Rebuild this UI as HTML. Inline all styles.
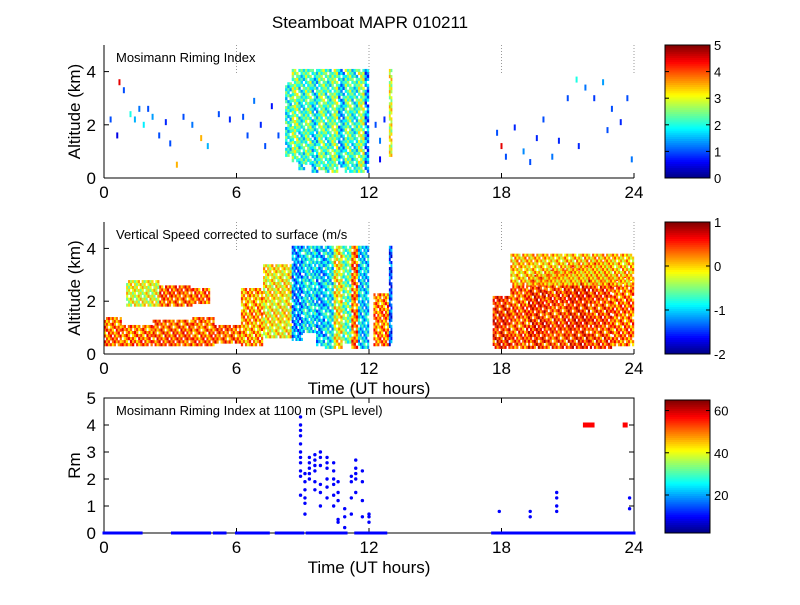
<!DOCTYPE html>
<html><head><meta charset="utf-8"><style>
body{margin:0;background:#fff}
svg{font-family:"Liberation Sans",Arial,sans-serif}
</style></head><body>
<svg id="fig" width="800" height="600">
<rect width="800" height="600" fill="#fff"/>
<text x="370" y="28" font-size="17" text-anchor="middle">Steamboat MAPR 010211</text>
</svg>
<script>
// ---- data ----
const xTicks=[0,6,12,18,24];
const p1Ticks=[0,2,4];
const p3Ticks=[0,1,2,3,4,5];
const cb1Labels=[0,1,2,3,4,5];
const cb2Labels=[-2,-1,0,1];
const cb3Labels=[20,40,60];
// stripes: [t0,t1,zlo,zhi,value]
const rimeStripes=[
[8.2,8.5,0.8,3.6,2.0],[8.5,8.8,0.6,4.1,2.6],[8.8,9.1,0.3,4.1,2.0],[9.1,9.4,0.5,4.1,2.4],
[9.4,9.7,0.2,4.1,1.8],[9.7,10.0,0.3,4.1,2.5],[10.0,10.3,0.2,4.1,2.1],[10.3,10.6,0.2,4.1,2.6],
[10.6,10.9,0.4,4.1,1.6],[10.9,11.2,0.2,4.1,2.4],[11.2,11.5,0.2,4.1,2.0],[11.5,11.8,0.2,4.1,2.7],
[11.8,12.0,0.2,4.1,1.3],[12.9,13.05,0.8,4.1,3.0]];
const rimePoints=[
[0.3,2.2,1],[0.6,1.6,0.5],[0.7,3.6,4.5],[0.9,3.3,1],[1.2,2.4,2],[1.4,2.2,1.5],[1.6,2.6,1.2],[1.8,2.0,1.8],
[2.0,2.6,1],[2.2,2.3,1.4],[2.5,1.6,1],[2.8,2.1,0.8],[3.0,1.3,1],[3.3,0.5,3.5],[3.6,2.3,1],[4.0,2.0,1.2],
[4.4,1.5,3.5],[4.7,1.2,1.5],[5.2,2.4,1],[5.7,2.2,0.8],[6.3,2.3,1],[6.5,1.6,1],[6.8,2.9,1.2],[7.1,2.0,0.8],
[7.3,1.2,1],[7.6,2.7,0.7],[7.9,1.6,1],[12.3,2.0,1],[12.5,1.4,1.2],[12.7,2.2,0.8],[12.5,0.7,0.6],
[17.8,1.7,1],[18.0,1.2,4.5],[18.2,0.8,1],[18.6,1.9,0.8],[19.0,1.0,1.3],[19.3,0.6,1],[19.6,1.5,0.8],
[19.9,2.2,1],[20.3,0.8,1.2],[20.6,1.4,0.8],[21.0,3.0,1],[21.4,3.7,2],[21.8,3.4,1.2],[22.2,3.0,0.9],
[22.6,3.6,1.4],[23.0,2.6,1],[23.4,2.1,0.8],[23.7,3.0,1],[23.9,0.7,1.2],[21.5,1.2,0.8],[22.8,1.8,1]];
const vsStripes=[
[0,0.8,0.3,1.4,0.3],[0.8,2.2,0.3,1.1,0.3],[2.2,4.0,0.3,1.3,0.35],[4.0,5.0,0.3,1.4,0.3],[5.0,6.2,0.4,1.1,0.35],
[6.2,7.2,0.3,2.5,0.15],[7.2,8.5,0.6,3.4,-0.1],[1.0,2.5,1.8,2.8,-0.2],[2.5,4.0,1.8,2.6,0.35],[4.0,4.8,1.9,2.5,0.3],
[8.5,9.0,0.5,4.1,-1.2],[9.0,9.6,0.8,4.1,-0.9],[9.6,10.0,0.3,4.1,-1.1],[10.0,10.4,0.2,4.1,-0.9],
[10.4,10.8,0.2,4.1,-0.1],[10.8,11.2,0.4,4.1,-0.6],[11.2,11.5,0.2,4.1,0.3],[11.5,12.0,0.2,4.1,-1.0],
[12.2,12.9,0.3,2.3,0.25],[12.9,13.05,0.3,4.1,-1.4],
[17.6,18.4,0.2,2.2,0.5],[18.4,19.2,0.2,2.6,0.35],[19.2,20.0,0.2,3.0,0.5],[20.0,21.0,0.2,3.2,0.4],
[21.0,22.0,0.2,3.4,0.5],[22.0,23.0,0.2,3.5,0.4],[23.0,24.0,0.3,3.0,0.3],[18.4,24,2.6,3.8,0.05]];
const scatTimes=[8.9,8.9,8.9,8.9,8.9,8.9,8.9,8.9,8.9,8.9,8.9,9.1,9.1,9.1,9.1,9.1,9.1,9.3,9.3,9.3,9.3,9.3,
9.55,9.55,9.55,9.55,9.55,9.55,9.8,9.8,9.8,9.8,9.8,9.8,10.1,10.1,10.1,10.1,10.1,10.1,10.4,10.4,10.4,10.4,10.4,10.4,
10.6,10.6,10.6,10.6,10.6,10.9,10.9,10.9,11.2,11.2,11.2,11.2,11.4,11.4,11.4,11.4,11.4,11.7,11.7,11.7,11.7,12.0,12.0,12.0,
17.9,19.3,19.3,20.5,20.5,20.5,20.5,23.8,23.8];
const scatValues=[4.3,4.0,3.8,3.6,3.3,3.0,2.8,2.6,2.3,2.1,1.4,2.2,1.9,1.6,1.3,1.1,0.7,2.8,2.6,2.4,2.2,2.0,
2.9,2.7,2.5,2.3,1.9,1.6,3.0,2.8,2.5,1.8,1.5,1.0,2.8,2.6,2.4,2.0,1.7,1.3,2.6,2.3,2.0,1.8,1.4,1.0,
1.9,1.5,1.2,0.5,0.4,0.9,0.6,0.2,2.1,1.9,1.3,0.7,2.7,2.4,2.2,2.0,1.5,2.3,1.9,1.2,0.6,0.7,0.6,0.4,
0.8,0.8,0.6,1.5,1.3,1.0,0.8,1.3,0.9];
const zeroSegments=[[0,1.7],[3.1,4.8],[5,5.5],[6,7.5],[7.8,9],[9.2,11],[11.4,12.8],[17.6,24]];
const redTimes=[21.8,21.9,22.0,22.1,23.6];
const redValues=[4,4,4,4,4];

// ---- helpers ----
const S=document.getElementById('fig'),NS='http://www.w3.org/2000/svg';
function mk(tag,at,parent){const e=document.createElementNS(NS,tag);for(const k in at)e.setAttribute(k,at[k]);(parent||S).appendChild(e);return e;}
function jet(f){f=Math.max(0,Math.min(1,f));const c=v=>Math.round(255*Math.max(0,Math.min(1,1.5-Math.abs(4*f-v))));return `rgb(${c(3)},${c(2)},${c(1)})`;}
const X0=104,X1=634;const xs=t=>X0+(X1-X0)*t/24;
const panels=[{top:45,bot:178,max:5},{top:222,bot:354,max:5},{top:398,bot:533,max:5}];
function ys(p,v){return p.bot-(p.bot-p.top)*v/p.max;}

function drawAxes(i,p,box,yticks,ylabel,xlabel){
  const g=mk('g',{});
  
  
  if(box){mk('rect',{x:X0,y:p.top,width:X1-X0,height:p.bot-p.top,fill:'none',stroke:'#000','stroke-width':1},g);}
  else{mk('line',{x1:X0,y1:p.top,x2:X0,y2:p.bot,stroke:'#000'},g);mk('line',{x1:X0,y1:p.bot,x2:X1,y2:p.bot,stroke:'#000'},g);}
  xTicks.forEach(t=>{const x=xs(t);mk('line',{x1:x,y1:p.bot,x2:x,y2:p.bot-5,stroke:'#000'},g);
    if(box)mk('line',{x1:x,y1:p.top,x2:x,y2:p.top+5,stroke:'#000'},g);
    const tx=mk('text',{x:x,y:p.bot+20,'font-size':17,'text-anchor':'middle'},g);tx.textContent=t;
    
    });
  yticks.forEach(v=>{const y=ys(p,v);mk('line',{x1:X0,y1:y,x2:X0+5,y2:y,stroke:'#000'},g);
    if(box)mk('line',{x1:X1,y1:y,x2:X1-5,y2:y,stroke:'#000'},g);
    const tx=mk('text',{x:X0-8,y:y+6,'font-size':17,'text-anchor':'end'},g);tx.textContent=v;
    
    });
  const yl=mk('text',{x:0,y:0,'font-size':17,'text-anchor':'middle',transform:`translate(80,${(p.top+p.bot)/2}) rotate(-90)`},g);
  yl.textContent=ylabel;
  
  
  if(xlabel){const xl=mk('text',{x:(X0+X1)/2,y:p.bot+40,'font-size':17,'text-anchor':'middle'},g);xl.textContent=xlabel;
    
    }
}
function panelTitle(p,txt){const t=mk('text',{x:116,y:p.top+17,'font-size':13});t.textContent=txt;
  
  }
function dashes(p){[6,12,18,24].forEach(t=>{const l=mk('line',{x1:xs(t),y1:p.top,x2:xs(t),y2:p.top+28,stroke:'#999','stroke-dasharray':'1,2'});
  
  });}
function drawStripes(p,arr,lo,hi,name){
  const g=mk('g',{});
  
  
  arr.forEach((s,k)=>{const x0=xs(s[0]),x1=xs(s[1]);const nx=Math.max(1,Math.round((x1-x0)/2));
    const y0=ys(p,s[3]),y1=ys(p,s[2]);const ny=Math.max(1,Math.round((y1-y0)/3));
    for(let j=0;j<nx;j++)for(let r=0;r<ny;r++){
      if((j*3+r*5+k)%7===0)continue;
      const v=s[4]+(((j*7+r*3+k)%5)-2)*(hi-lo)*0.06;
      const c=mk('rect',{x:x0+(x1-x0)*j/nx,y:y0+(y1-y0)*r/ny,width:(x1-x0)/nx+0.2,height:(y1-y0)/ny+0.2,fill:jet((v-lo)/(hi-lo))},g);
      
      }});
  return g;
}
function colorbar(p,lo,hi,labels,name){
  const g=mk('g',{});
  
  
  const n=64,h=(p.bot-p.top);
  for(let i=0;i<n;i++){mk('rect',{x:665,y:p.bot-h*(i+1)/n,width:45,height:h/n+0.5,fill:jet((i+0.5)/n)},g);}
  mk('rect',{x:665,y:p.top,width:45,height:h,fill:'none',stroke:'#000'},g);
  labels.forEach(v=>{const y=p.bot-h*(v-lo)/(hi-lo);mk('line',{x1:665,y1:y,x2:669,y2:y,stroke:'#000'},g);mk('line',{x1:710,y1:y,x2:706,y2:y,stroke:'#000'},g);
    const t=mk('text',{x:714,y:y+5,'font-size':13},g);t.textContent=v;
    
    });
}
// ---- panel 1 ----
const P1=panels[0];
drawStripes(P1,rimeStripes,0,5,'riming-heatmap');
rimePoints.forEach(q=>{const r=mk('rect',{x:xs(q[0])-1,y:ys(P1,q[1])-3,width:2,height:6,fill:jet(q[2]/5)});
  
  });
dashes(P1);
drawAxes(0,P1,false,p1Ticks,'Altitude (km)',null);
panelTitle(P1,'Mosimann Riming Index');
colorbar(P1,0,5,cb1Labels,'colorbar-riming');
// ---- panel 2 ----
const P2=panels[1];
drawStripes(P2,vsStripes,-2,1,'vertical-speed-heatmap');
dashes(P2);
drawAxes(1,P2,false,p1Ticks,'Altitude (km)','Time (UT hours)');
panelTitle(P2,'Vertical Speed corrected to surface (m/s');
colorbar({top:222,bot:354},-2,1,cb2Labels,'colorbar-vertical-speed');
// ---- panel 3 ----
const P3=panels[2];
drawAxes(2,P3,true,p3Ticks,'Rm','Time (UT hours)');
panelTitle(P3,'Mosimann Riming Index at 1100 m (SPL level)');
zeroSegments.forEach(s=>{for(let t=s[0];t<=s[1]+1e-6;t+=0.08){const c=mk('rect',{x:xs(t)-1.5,y:ys(P3,0)-1.5,width:3,height:3,fill:'#0000ff'});
  
  }});
scatTimes.forEach((t,i)=>{const c=mk('circle',{cx:xs(t),cy:ys(P3,scatValues[i]),r:1.7,fill:'#0000ff'});
  
  });
redTimes.forEach((t,i)=>{const c=mk('rect',{x:xs(t)-2.5,y:ys(P3,redValues[i])-2.5,width:5,height:5,fill:'#ff0000'});
  
  });
colorbar({top:400,bot:533},2,65,cb3Labels,'colorbar-spl');
</script>
</body></html>
